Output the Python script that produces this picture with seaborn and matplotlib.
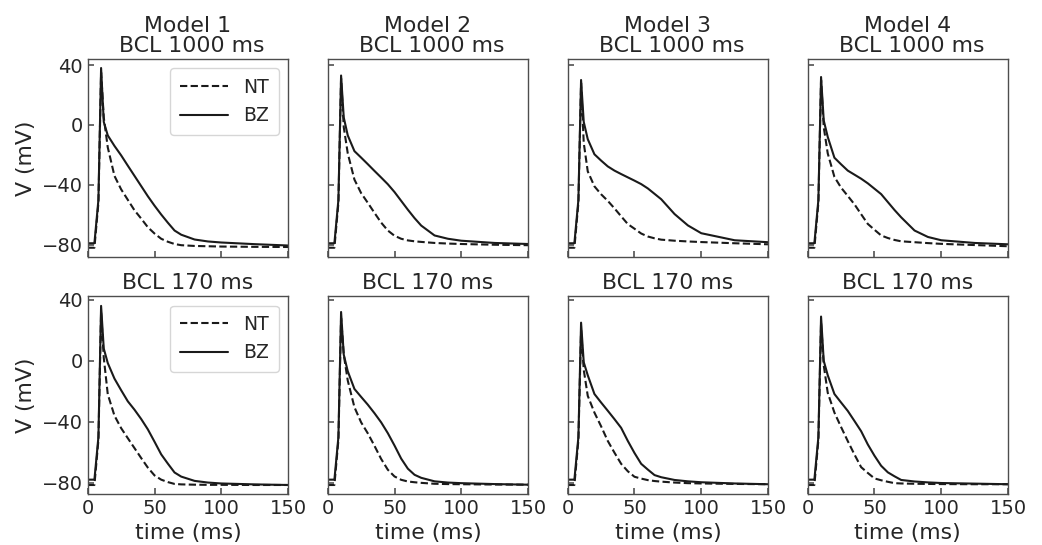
import matplotlib
matplotlib.use("Agg")
import matplotlib.pyplot as plt
import seaborn as sns
import pandas as pd

# Action potential traces, sampled on a shared time grid (ms), voltages in mV
time_ms = [0, 5, 8, 10, 12, 15, 20, 25, 30, 35, 40, 45, 50, 55, 60, 65, 70,
           80, 90, 100, 125, 150]

models = ["Model 1", "Model 2", "Model 3", "Model 4"]
bcl_labels = ["BCL 1000 ms", "BCL 170 ms"]

# BCL 1000 ms
nt_1000_m1 = [-82, -82, -52, 35, 5, -15, -34, -43, -50, -57, -62.5, -68.3, -72.5,
              -76, -78, -79.5, -80.3, -80.8, -81, -81.2, -81.4, -81.5]
bz_1000_m1 = [-79, -79, -50, 38, 2, -7, -14, -20.3, -27.2, -34, -40.8, -47.6,
              -53.9, -59.8, -65.3, -70.5, -73.3, -76.5, -77.8, -78.5, -79.6, -80.5]
nt_1000_m2 = [-82, -82, -52, 31, -1.5, -19, -36.5, -45.5, -52, -58.7, -65.2, -70.5,
              -74, -76, -77.1, -77.7, -78.1, -78.8, -79.2, -79.5, -80, -80.3]
bz_1000_m2 = [-79, -79, -50, 33, 5, -7, -17.5, -21.8, -26.2, -30.7, -35.1, -39.6,
              -44.8, -50.7, -56.6, -62.2, -67.2, -73.8, -76, -77.3, -78.8, -79.5]
nt_1000_m3 = [-82, -82, -52, 28, -12, -31, -41, -46.3, -50.7, -55.7, -61, -66.2,
              -69.3, -72.5, -74.5, -75.7, -76.6, -77.3, -77.8, -78.2, -79, -79.7]
bz_1000_m3 = [-79, -79, -50, 30, 2, -9.5, -19.6, -23.8, -27.7, -30.5, -32.8, -35,
              -37.2, -39.5, -42.4, -46, -49.6, -59.5, -67.1, -72.3, -77, -78.3]
nt_1000_m4 = [-82, -82, -52, 30, -1.5, -19, -34.7, -41.9, -47.4, -53, -59.6, -66.1,
              -70, -73.8, -75.5, -76.8, -77.7, -78.3, -78.9, -79.4, -80.2, -81]
bz_1000_m4 = [-79, -79, -50, 32, 3, -8, -21.9, -26.3, -30.5, -33.2, -35.9, -39,
              -42.6, -46.2, -51.5, -56.8, -61.7, -70.5, -74.8, -77, -78.8, -79.7]

# BCL 170 ms
nt_170_m1 = [-81.5, -81.5, -52, 32, 2, -22, -36, -44.2, -50.8, -57.3, -63.8, -70.1,
             -75.2, -78, -79.6, -80.8, -81.1, -81.3, -81.4, -81.4, -81.5, -81.5]
bz_170_m1 = [-78, -78, -50, 36, 8, -1.5, -11.7, -19.3, -26.6, -32.1, -38.2, -45,
             -53.1, -61.4, -67.5, -73.3, -76, -78.8, -79.9, -80.5, -81.1, -81.5]
nt_170_m2 = [-81.5, -81.5, -52, 28, 4, -13, -30.5, -40.4, -47.6, -55.8, -64.4, -71.5,
             -75.9, -78.1, -79.2, -79.7, -80.1, -80.7, -80.9, -81, -81.2, -81.3]
bz_170_m2 = [-78, -78, -50, 32, 4, -6.9, -18.5, -23.7, -28.8, -34.4, -40.4, -47.5,
             -55.6, -64.2, -70.8, -74.8, -76.8, -79.1, -79.9, -80.3, -80.9, -81.3]
nt_170_m3 = [-81.5, -81.5, -52, 20, -6, -23, -34, -43, -52.6, -60.3, -67.6, -72.5,
             -76.1, -77.3, -78.3, -78.9, -79.3, -79.9, -80.3, -80.5, -80.8, -81]
bz_170_m3 = [-78, -78, -50, 25, -1, -9.5, -21.8, -27.4, -32.8, -38.3, -44, -52.6,
             -60.5, -67.6, -71.4, -75, -76.4, -78.2, -79.1, -79.7, -80.5, -81]
nt_170_m4 = [-81.5, -81.5, -52, 25, -3, -21, -34, -43.5, -52.7, -61.5, -69.8, -73.6,
             -77.2, -78.4, -79.4, -80.3, -80.5, -80.7, -80.8, -80.9, -81, -81]
bz_170_m4 = [-78, -78, -50, 29, 0, -9.5, -21.8, -27.4, -32.9, -39.5, -46.2, -54.9,
             -62.3, -68.9, -73.2, -75.8, -78.2, -79.2, -79.8, -80.2, -80.6, -81]

nt_rows = [[nt_1000_m1, nt_1000_m2, nt_1000_m3, nt_1000_m4],
           [nt_170_m1, nt_170_m2, nt_170_m3, nt_170_m4]]
bz_rows = [[bz_1000_m1, bz_1000_m2, bz_1000_m3, bz_1000_m4],
           [bz_170_m1, bz_170_m2, bz_170_m3, bz_170_m4]]

y_ticks = [-80, -40, 0, 40]
x_ticks = [0, 50, 100, 150]
row_ylims = [(-88, 44), (-87.4, 42.3)]

sns.set_theme(style="ticks")
plt.rcParams.update({
    "font.family": ["DejaVu Sans"],
    "xtick.direction": "in",
    "ytick.direction": "in",
    "xtick.major.size": 4,
    "ytick.major.size": 4,
    "xtick.color": "0.35",
    "ytick.color": "0.35",
    "xtick.labelcolor": "0.15",
    "ytick.labelcolor": "0.15",
    "axes.edgecolor": "0.3",
    "axes.linewidth": 1.0,
})

fig, axes = plt.subplots(2, 4, figsize=(10.42, 5.45), dpi=100,
                         sharex=True, sharey="row")
fig.subplots_adjust(left=0.0842, right=0.9674, top=0.8917, bottom=0.0936,
                    wspace=0.198, hspace=0.2)

for r in range(2):
    for c in range(4):
        ax = axes[r, c]
        df = pd.DataFrame({
            "time": time_ms * 2,
            "V": nt_rows[r][c] + bz_rows[r][c],
            "cell": ["NT"] * len(time_ms) + ["BZ"] * len(time_ms),
        })
        sns.lineplot(data=df, x="time", y="V", style="cell",
                     dashes={"NT": (3.5, 1.6), "BZ": ""},
                     color="#1a1a1a", linewidth=1.5, ax=ax,
                     legend=(c == 0), estimator=None, sort=False)
        ax.set_xlim(0, 150)
        ax.set_ylim(*row_ylims[r])
        ax.set_xticks(x_ticks)
        ax.set_yticks(y_ticks)
        ax.tick_params(labelsize=14)
        if r == 0:
            ax.set_title(f"{models[c]}\n {bcl_labels[0]}", fontsize=15.8,
                         linespacing=1.0, pad=5)
        else:
            ax.set_title(bcl_labels[1], fontsize=15.8, pad=5)
        ax.set_xlabel("time (ms)" if r == 1 else "", fontsize=15.8)
        ax.set_ylabel("V (mV)" if c == 0 else "", fontsize=15.8)
        if r == 0:
            ax.tick_params(labelbottom=False)
        if c != 0:
            ax.tick_params(labelleft=False)
        if c == 0:
            leg = ax.legend(loc="upper right", fontsize=13.5, title=None,
                            handlelength=2.6, borderpad=0.5)
            for h in leg.get_lines():
                h.set_linewidth(1.5)

fig.savefig("out.png", dpi=100)
